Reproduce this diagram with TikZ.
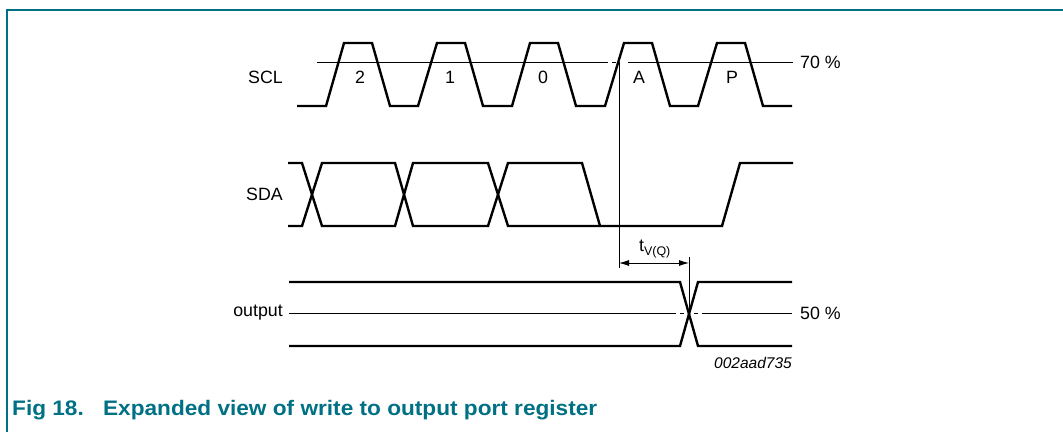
\documentclass[tikz,border=0pt]{standalone}
\usepackage{fontspec}
\usepackage{graphicx}
\setmainfont{Liberation Sans}
\usetikzlibrary{arrows.meta}
\definecolor{nxpteal}{RGB}{0,112,132}
\begin{document}
\begin{tikzpicture}[x=1pt,y=-1pt,
  sig/.style={line width=2.4pt,line join=miter},
  thin/.style={line width=0.9pt},
  lbl/.style={font=\fontsize{17.8}{20}\selectfont,inner sep=0pt},
  bitlbl/.style={font=\fontsize{17.8}{20}\selectfont,inner sep=0pt},
  frame/.style={draw=nxpteal,line width=2pt}]
\useasboundingbox (0,0) rectangle (1063,432);
% frame
\draw[frame] (7,432) -- (7,9.5) -- (1063,9.5);
% labels
\node[lbl,anchor=east] (scl) at (283,77) {SCL};
\node[lbl,anchor=east] (sda) at (283,194) {SDA};
\node[lbl,anchor=east] (out) at (283,313) {output};
\node[bitlbl] (b2) at (360,77) {2};
\node[bitlbl] (b1) at (450,77) {1};
\node[bitlbl] (b0) at (543,77) {0};
\node[bitlbl] (bA) at (639,77) {A};
\node[bitlbl] (bP) at (732,77) {P};
\node[lbl,anchor=west] (p70) at (800,62) {70 \%};
\node[lbl,anchor=west] (p50) at (800,313) {50 \%};
\node[font=\fontsize{15.5}{17}\selectfont\itshape,inner sep=0pt] (id) at (753,363) {002aad735};
\node[font=\fontsize{17.8}{20}\selectfont,inner sep=0pt] (tv) at (655,249) {t\textsubscript{V(Q)}};
% reference lines
\draw[thin] (317,62) -- (608,62);
\draw[thin] (612,62) -- (615.5,62);
\draw[thin] (628,62) -- (793,62);
\draw[thin] (289,313) -- (676,313);
\draw[thin] (680,313) -- (684,313);
\draw[thin] (694,313) -- (698,313);
\draw[thin] (702,313) -- (792,313);
% SCL
\draw[sig] (297,106)--(326,106)--(344,43)--(372,43)--(390,106)--(418,106)--(437,43)--(465,43)--(483,106)--(512,106)--(530,43)--(558,43)--(576,106)--(605,106)--(624,43)--(652,43)--(670,106)--(698,106)--(717,43)--(745,43)--(763,106)--(792,106);
% SDA
\draw[sig] (288,163)--(302,163)--(322,226)--(395,226)--(413,163)--(488,163)--(508,226)--(722,226)--(740,163)--(793,163);
\draw[sig] (288,226)--(302,226)--(322,163)--(395,163)--(413,226)--(488,226)--(508,163)--(582,163)--(600,226);
% output
\draw[sig] (289,282)--(680,282)--(698,346)--(792,346);
\draw[sig] (289,346)--(680,346)--(698,282)--(792,282);
% timing
\coordinate (va) at (619,62);
\coordinate (vb) at (619,268);
\coordinate (wa) at (689,257);
\coordinate (wb) at (689,313);
\draw[thin] (va) -- (vb);
\draw[thin] (wa) -- (wb);
\coordinate (aa) at (619,263);
\coordinate (ab) at (689,263);
\draw[thin,{Latex[length=10pt,width=6pt]}-{Latex[length=10pt,width=6pt]}] (aa) -- (ab);
% caption
\node[font=\fontsize{21}{24}\selectfont\bfseries,text=nxpteal,anchor=base west,inner sep=0pt] (cap) at (12,415) {\resizebox{585pt}{\height}{Fig 18.\hspace{0.85em}Expanded view of write to output port register}};
\end{tikzpicture}
\end{document}
